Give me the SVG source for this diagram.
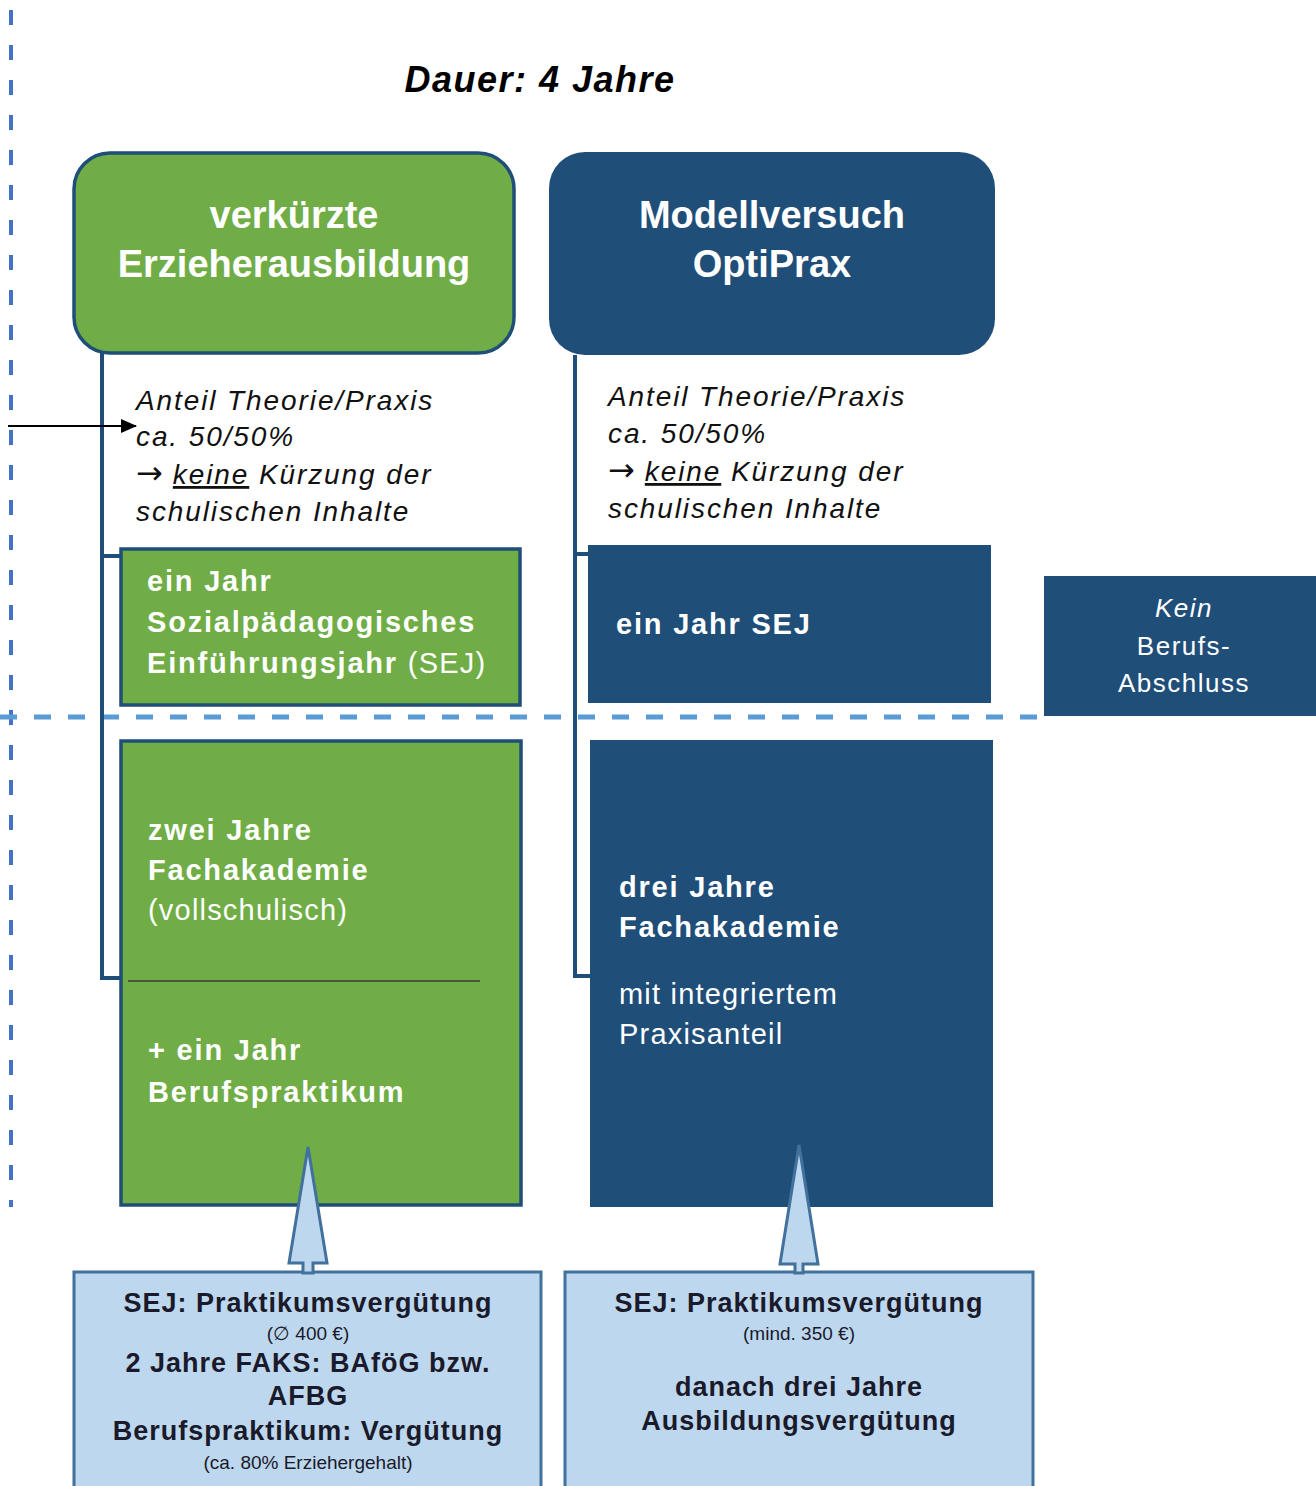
<svg xmlns="http://www.w3.org/2000/svg" width="1316" height="1486" viewBox="0 0 1316 1486">
<style>
.bg{fill:#ffffff}
.green{fill:#70AD47;stroke:#1F4E79;stroke-width:3.5}
.navy{fill:#1F4E79}
.light{fill:#BDD7EE;stroke:#41719C;stroke-width:3}
.hdr{font-family:"Liberation Sans",Arial,sans-serif;font-weight:bold;font-size:38px;fill:#ffffff;text-anchor:middle}
.wb{font-family:"Liberation Sans",Arial,sans-serif;font-weight:bold;font-size:29px;fill:#ffffff;letter-spacing:1.8px}
.wn{font-family:"Liberation Sans",Arial,sans-serif;font-weight:normal;font-size:29px;fill:#ffffff;letter-spacing:1.2px}
.it{font-family:"Liberation Sans",Arial,sans-serif;font-style:italic;font-size:28px;fill:#111111;letter-spacing:1.9px}
.arr{font-family:"DejaVu Sans",sans-serif;font-style:normal;font-size:32px;letter-spacing:0}
.kb{font-family:"Liberation Sans",Arial,sans-serif;font-size:26px;fill:#ffffff;text-anchor:middle;letter-spacing:1.5px}
.bt{font-family:"Liberation Sans",Arial,sans-serif;font-weight:bold;font-size:27px;fill:#1a1a2a;text-anchor:middle;letter-spacing:1px}
.st{font-family:"Liberation Sans",Arial,sans-serif;font-size:19px;fill:#1a1a2a;text-anchor:middle}
.br{fill:none;stroke:#1F4E79;stroke-width:4}
</style>
<defs>
<marker id="tri" markerWidth="16" markerHeight="14" refX="15" refY="7" orient="auto" markerUnits="userSpaceOnUse" viewBox="0 0 16 14">
<path d="M0,0 L16,7 L0,14 Z" fill="#000000"/>
</marker>
</defs>
<rect class="bg" x="0" y="0" width="1316" height="1486"/>

<g id="dividers">
<line x1="11" y1="10" x2="11" y2="1207" stroke="#4472C4" stroke-width="4" stroke-dasharray="15 20"/>
<line x1="0" y1="717" x2="1044" y2="717" stroke="#5B9BD5" stroke-width="5" stroke-dasharray="17 17"/>
</g>

<g id="title">
<text x="540" y="92" font-family="'Liberation Sans',Arial,sans-serif" font-weight="bold" font-style="italic" font-size="36" letter-spacing="1.5" fill="#000000" text-anchor="middle">Dauer: 4 Jahre</text>
</g>

<g id="connectors">
<path class="br" d="M102,353 V978 H123"/>
<path class="br" d="M102,556 H122"/>
<path class="br" d="M575,355 V976 H591"/>
<path class="br" d="M575,554 H589"/>
<line x1="8" y1="426" x2="136" y2="426" stroke="#000000" stroke-width="2" marker-end="url(#tri)"/>
</g>

<g id="header-left">
<rect class="green" x="74" y="153" width="440" height="200" rx="36" ry="36"/>
<text class="hdr" x="294" y="228">verkürzte</text>
<text class="hdr" x="294" y="277">Erzieherausbildung</text>
</g>

<g id="header-right">
<rect class="navy" x="549" y="152" width="446" height="203" rx="36" ry="36"/>
<text class="hdr" x="772" y="228">Modellversuch</text>
<text class="hdr" x="772" y="277">OptiPrax</text>
</g>

<g id="note-left">
<text class="it" x="136" y="410">Anteil Theorie/Praxis</text>
<text class="it" x="136" y="446">ca. 50/50%</text>
<text class="it" x="136" y="484"><tspan class="arr">→</tspan><tspan dx="10" text-decoration="underline">keine</tspan> Kürzung der</text>
<text class="it" x="136" y="521">schulischen Inhalte</text>
</g>

<g id="note-right">
<text class="it" x="608" y="406">Anteil Theorie/Praxis</text>
<text class="it" x="608" y="443">ca. 50/50%</text>
<text class="it" x="608" y="481"><tspan class="arr">→</tspan><tspan dx="10" text-decoration="underline">keine</tspan> Kürzung der</text>
<text class="it" x="608" y="518">schulischen Inhalte</text>
</g>

<g id="sej-left">
<rect class="green" x="121" y="549" width="399" height="156"/>
<text class="wb" x="147" y="591">ein Jahr</text>
<text class="wb" x="147" y="632">Sozialpädagogisches</text>
<text class="wb" x="147" y="673">Einführungsjahr <tspan font-weight="normal" letter-spacing="1.2">(SEJ)</tspan></text>
</g>

<g id="sej-right">
<rect class="navy" x="588" y="545" width="403" height="158"/>
<text class="wb" x="616" y="634">ein Jahr SEJ</text>
</g>

<g id="kein-abschluss">
<rect class="navy" x="1044" y="576" width="272" height="140"/>
<text class="kb" x="1184" y="617" font-style="italic">Kein</text>
<text class="kb" x="1184" y="655">Berufs-</text>
<text class="kb" x="1184" y="692">Abschluss</text>
</g>

<g id="fak-left">
<rect class="green" x="121" y="741" width="400" height="464"/>
<text class="wb" x="148" y="840">zwei Jahre</text>
<text class="wb" x="148" y="880">Fachakademie</text>
<text class="wn" x="148" y="920">(vollschulisch)</text>
<line x1="128" y1="981" x2="480" y2="981" stroke="#3a3a3a" stroke-width="1.5"/>
<text class="wb" x="148" y="1060">+ ein Jahr</text>
<text class="wb" x="148" y="1102">Berufspraktikum</text>
</g>

<g id="fak-right">
<rect class="navy" x="590" y="740" width="403" height="467"/>
<text class="wb" x="619" y="897">drei Jahre</text>
<text class="wb" x="619" y="937">Fachakademie</text>
<text class="wn" x="619" y="1004">mit integriertem</text>
<text class="wn" x="619" y="1044">Praxisanteil</text>
</g>

<g id="finance-left">
<rect class="light" x="74" y="1272" width="467" height="230"/>
<path class="light" d="M308,1147 L327,1263 L313,1263 L313,1273 L303,1273 L303,1263 L289,1263 Z"/>
<text class="bt" x="308" y="1312">SEJ: Praktikumsvergütung</text>
<text class="st" x="308" y="1340">(∅ 400 €)</text>
<text class="bt" x="308" y="1372">2 Jahre FAKS: BAföG bzw.</text>
<text class="bt" x="308" y="1405">AFBG</text>
<text class="bt" x="308" y="1440">Berufspraktikum: Vergütung</text>
<text class="st" x="308" y="1469">(ca. 80% Erziehergehalt)</text>
</g>

<g id="finance-right">
<rect class="light" x="565" y="1272" width="468" height="230"/>
<path class="light" d="M799,1145 L818,1264 L803,1264 L803,1273 L795,1273 L795,1264 L780,1264 Z"/>
<text class="bt" x="799" y="1312">SEJ: Praktikumsvergütung</text>
<text class="st" x="799" y="1340">(mind. 350 €)</text>
<text class="bt" x="799" y="1396">danach drei Jahre</text>
<text class="bt" x="799" y="1430">Ausbildungsvergütung</text>
</g>
</svg>
